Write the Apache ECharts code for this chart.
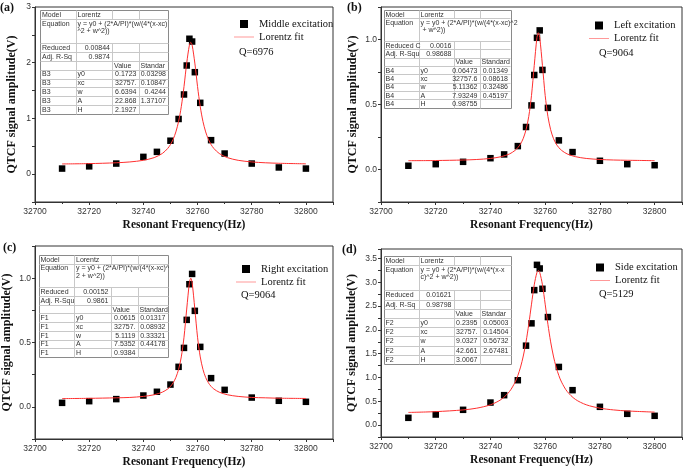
<!DOCTYPE html>
<html><head><meta charset="utf-8">
<script src="https://cdn.jsdelivr.net/npm/echarts@6/dist/echarts.min.js"></script>
<style>html,body{margin:0;padding:0;background:#fff}#c{width:685px;height:470px}</style>
</head><body><div id="c"></div>
<script>
// ---------- data ----------
const freq = [32710,32720,32730,32740,32745,32750,32753,32755,32756,32757,32758,32759,32761,32765,32770,32780,32790,32800];
const middleAmp = [0.10,0.14,0.19,0.31,0.40,0.60,0.99,1.43,1.95,2.43,2.38,1.83,1.28,0.61,0.37,0.19,0.12,0.10];
const leftAmp   = [0.029,0.041,0.059,0.087,0.116,0.180,0.327,0.493,0.727,1.013,1.070,0.766,0.474,0.224,0.134,0.067,0.041,0.033];
const rightAmp  = [0.031,0.044,0.060,0.088,0.117,0.173,0.311,0.458,0.676,0.953,1.033,0.746,0.466,0.223,0.132,0.072,0.047,0.039];
const sideAmp   = [0.153,0.222,0.321,0.474,0.629,0.943,1.669,2.138,2.836,3.367,3.291,2.864,2.270,1.222,0.734,0.384,0.237,0.195];

const fitFreq = [32710,32720,32730,32735,32740,32744,32747,32749,32750,32751,32752,32753,32754,32755,32756,32757,32757.5,32758,32759,32760,32761,32762,32763,32764,32765,32766,32768,32771,32775,32780,32785,32790,32800];
const middleFit = [0.183,0.189,0.204,0.219,0.248,0.297,0.371,0.462,0.531,0.626,0.758,0.945,1.211,1.572,1.993,2.316,2.365,2.316,1.993,1.572,1.211,0.945,0.758,0.626,0.531,0.462,0.371,0.297,0.248,0.219,0.204,0.195,0.185];
const leftFit   = [0.068,0.069,0.073,0.077,0.085,0.099,0.120,0.147,0.168,0.197,0.240,0.306,0.408,0.570,0.800,1.016,1.052,1.016,0.800,0.570,0.408,0.306,0.240,0.197,0.168,0.147,0.120,0.099,0.085,0.077,0.073,0.071,0.068];
const rightFit  = [0.064,0.066,0.070,0.073,0.081,0.094,0.114,0.139,0.159,0.187,0.228,0.291,0.388,0.541,0.760,0.965,1.000,0.965,0.760,0.541,0.388,0.291,0.228,0.187,0.159,0.139,0.114,0.094,0.081,0.073,0.070,0.067,0.065];
const sideFit   = [0.266,0.283,0.319,0.356,0.427,0.542,0.709,0.902,1.040,1.219,1.451,1.748,2.118,2.541,2.947,3.210,3.246,3.210,2.947,2.541,2.118,1.748,1.451,1.219,1.040,0.902,0.709,0.542,0.427,0.356,0.319,0.297,0.273];

const seriesNames = ['Middle excitation','Left excitation','Right excitation','Side excitation'];
const fitName = 'Lorentz fit';
const qTexts = ['Q=6976','Q=9064','Q=9064','Q=5129'];
const panelLabels = ['(a)','(b)','(c)','(d)'];
const xName = 'Resonant Frequency(Hz)';
const yName = 'QTCF signal amplitude(V)';

const tableA = [
 ['Model','Lorentz','',''],
 ['Equation','y = y0 + (2*A/PI)*(w/(4*(x-xc)\n^2 + w^2))'],
 ['Reduced','0.00844','',''],
 ['Adj. R-Sq','0.9874','',''],
 ['','','Value','Standar'],
 ['B3','y0','0.1723','0.03298'],
 ['B3','xc','32757.','0.10847'],
 ['B3','w','6.6394','0.4244'],
 ['B3','A','22.868','1.37107'],
 ['B3','H','2.1927','']
];
const tableB = [
 ['Model','Lorentz','',''],
 ['Equation','y = y0 + (2*A/PI)*(w/(4*(x-xc)^2\n + w^2))'],
 ['Reduced C','0.0016','',''],
 ['Adj. R-Squ','0.98688','',''],
 ['','','Value','Standard'],
 ['B4','y0','0.06473','0.01349'],
 ['B4','xc','32757.6','0.08618'],
 ['B4','w','5.11362','0.32486'],
 ['B4','A','7.93249','0.45197'],
 ['B4','H','0.98755','']
];
const tableC = [
 ['Model','Lorentz','',''],
 ['Equation','y = y0 + (2*A/PI)*(w/(4*(x-xc)^\n2 + w^2))'],
 ['Reduced','0.00152','',''],
 ['Adj. R-Squ','0.9861','',''],
 ['','','Value','Standard'],
 ['F1','y0','0.0615','0.01317'],
 ['F1','xc','32757.','0.08932'],
 ['F1','w','5.1119','0.33321'],
 ['F1','A','7.5352','0.44178'],
 ['F1','H','0.9384','']
];
const tableD = [
 ['Model','Lorentz','',''],
 ['Equation','y = y0 + (2*A/PI)*(w/(4*(x-x\nc)^2 + w^2))'],
 ['Reduced','0.01621','',''],
 ['Adj. R-Sq','0.98798','',''],
 ['','','Value','Standar'],
 ['F2','y0','0.2395','0.05003'],
 ['F2','xc','32757.','0.14504'],
 ['F2','w','9.0327','0.56732'],
 ['F2','A','42.661','2.67481'],
 ['F2','H','3.0067','']
];

// ---------- layout ----------
const SERIF = '"Liberation Serif","Times New Roman",serif';
const SANS = '"Liberation Sans",Arial,sans-serif';
const RED = '#ff3030';
const ampSets = [middleAmp, leftAmp, rightAmp, sideAmp];
const fitSets = [middleFit, leftFit, rightFit, sideFit];
const tables = [tableA, tableB, tableC, tableD];
const grids = [
 {left:35, top:7, width:298, height:195},
 {left:381, top:7, width:301, height:195},
 {left:35, top:246, width:298, height:193},
 {left:381, top:249, width:301, height:188}
];
const yCfg = [
 {min:-0.5, max:3, interval:0.5, step:1, gap:17},
 {min:-0.25, max:1.25, interval:0.25, step:0.5, gap:22},
 {min:-0.25, max:1.25, interval:0.25, step:0.5, gap:22},
 {min:-0.25, max:3.7, interval:0.25, step:0.5, gap:23}
];
const legendPos = [
 {left:234, top:18},
 {left:589, top:19.5},
 {left:236, top:263},
 {left:590, top:261.5}
];
const qPos = [[239,52],[599,53],[241,295],[599,294]];
const labelPos = [[0,8],[347,8],[3,248],[342,250]];
const tableLayout = [
 {cols:[40,75.5,112,138.5,168], top:10, r:8.9, e:24},
 {cols:[383.5,418.5,453.5,479.5,510], top:10, r:8.3, e:22.85},
 {cols:[38.5,74,110.5,137.5,167.5], top:255, r:8.7, e:23.65},
 {cols:[383.5,418.5,453.5,479.5,510.5], top:255.7, r:9.2, e:25.5}
];

const px = v => Math.round(v) + 0.5;
function hline(x1,y,x2,col){return {type:'line',z:100,shape:{x1:px(x1),y1:px(y),x2:px(x2),y2:px(y)},style:{stroke:col||'#c8c8c8',lineWidth:1}};}
function vline(x,y1,y2,col){return {type:'line',z:100,shape:{x1:px(x),y1:px(y1),x2:px(x),y2:px(y2)},style:{stroke:col||'#c8c8c8',lineWidth:1}};}
function txt(s,x,y,align,va,extra){
  return {type:'text',z:101,style:Object.assign({text:s,x:x,y:y,align:align,verticalAlign:va,fill:'#333',fontSize:7,fontFamily:SANS},extra||{})};
}
function tableGraphics(rows,L){
  const els=[]; const c=L.cols;
  const tops=[L.top, L.top+L.r]; let y=L.top+L.r+L.e; tops.push(y);
  for(let i=3;i<rows.length;i++){y+=L.r; tops.push(y);}
  const bottom=y+L.r;
  els.push({type:'rect',z:99,shape:{x:px(c[0]),y:px(L.top),width:Math.round(c[4]-c[0]),height:Math.round(bottom-L.top)},style:{fill:'#fff',stroke:'#8a8a8a',lineWidth:1}});
  for(let i=1;i<tops.length;i++) els.push(hline(c[0],tops[i],c[4]));
  els.push(vline(c[1],L.top,bottom));
  for(let j=2;j<4;j++){els.push(vline(c[j],L.top,tops[1])); els.push(vline(c[j],tops[2],bottom));}
  rows.forEach((row,i)=>{
    const t=tops[i];
    if(i===1){
      els.push(txt(row[0],c[0]+2,t+1,'left','top',{lineHeight:7.4}));
      els.push(txt(row[1],c[1]+2,t+1,'left','top',{lineHeight:7.4}));
      return;
    }
    row.forEach((s,j)=>{
      if(!s) return;
      const num=/^[0-9.]+$/.test(s);
      els.push(txt(s, num? c[j+1]-2 : c[j]+2, t+L.r/2+0.5, num?'right':'left','middle'));
    });
  });
  return els;
}

const squareIcon = 'path://M0,0L10,0L10,10L0,10Z';
const lineIcon = 'path://M0,0L40,0L40,1L0,1Z';
const option = {
  animation:false,
  backgroundColor:'#fff',
  grid: grids.map(g=>Object.assign({show:true,borderColor:'#333',borderWidth:1,backgroundColor:'transparent',containLabel:false},g)),
  xAxis: grids.map((g,i)=>({
    type:'value', gridIndex:i, min:32700, max:32810, interval:20,
    name:xName, nameLocation:'middle', nameGap:17,
    nameTextStyle:{fontFamily:SERIF,fontWeight:'bold',fontSize:11.5,color:'#111'},
    axisLine:{show:true,onZero:false,lineStyle:{color:'#333',width:1}},
    axisTick:{show:true,length:3,lineStyle:{color:'#333'}},
    minorTick:{show:true,splitNumber:2,length:2,lineStyle:{color:'#333'}},
    splitLine:{show:false},
    axisLabel:{fontFamily:SANS,fontSize:8.5,color:'#333',margin:5,
      formatter:v=>(Math.abs(v%20)<1e-6 && v<=32800)?String(v):''}
  })),
  yAxis: yCfg.map((y,i)=>({
    type:'value', gridIndex:i, min:y.min, max:y.max, interval:y.interval,
    name:yName, nameLocation:'middle', nameGap:y.gap,
    nameTextStyle:{fontFamily:SERIF,fontWeight:'bold',fontSize:12,color:'#111'},
    axisLine:{show:true,onZero:false,lineStyle:{color:'#333',width:1}},
    axisTick:{show:true,length:3,lineStyle:{color:'#333'}},
    splitLine:{show:false},
    axisLabel:{fontFamily:SANS,fontSize:8.5,color:'#333',margin:4,
      formatter:v=>{const k=v/y.step; if(v<-1e-9||Math.abs(k-Math.round(k))>1e-6) return ''; return y.step===1?String(Math.round(v)):v.toFixed(1);}}
  })),
  legend: legendPos.map((p,i)=>({
    orient:'vertical', left:p.left, top:p.top, itemWidth:20, itemHeight:8, itemGap:1,
    selectedMode:false, padding:0,
    textStyle:{fontFamily:SERIF,fontSize:10.5,color:'#111',lineHeight:12},
    data:[{name:seriesNames[i],icon:squareIcon,itemStyle:{color:'#000',opacity:1}},
          {name:fitName,icon:lineIcon,itemStyle:{color:RED,opacity:1}}]
  })),
  series: [].concat(...ampSets.map((amp,i)=>[
    {type:'scatter', name:seriesNames[i], xAxisIndex:i, yAxisIndex:i, symbol:'rect', symbolSize:6.5,
     itemStyle:{color:'#000',opacity:1}, z:3, data:freq.map((f,k)=>[f,amp[k]])},
    {type:'line', name:fitName, xAxisIndex:i, yAxisIndex:i, symbol:'none', showSymbol:false, smooth:0.3,
     lineStyle:{color:RED,width:1}, itemStyle:{color:RED}, z:4,
     data:fitFreq.map((f,k)=>[f,fitSets[i][k]])}
  ])),
  graphic: [].concat(
    ...tables.map((t,i)=>tableGraphics(t,tableLayout[i])),
    qTexts.map((q,i)=>txt(q,qPos[i][0],qPos[i][1],'left','middle',{fontFamily:SERIF,fontSize:10.5,fill:'#111'})),
    panelLabels.map((l,i)=>txt(l,labelPos[i][0],labelPos[i][1],'left','middle',{fontFamily:SERIF,fontSize:12,fontWeight:'bold',fill:'#111'}))
  )
};
const chart = echarts.init(document.getElementById('c'));
chart.setOption(option);
</script>
</body></html>
